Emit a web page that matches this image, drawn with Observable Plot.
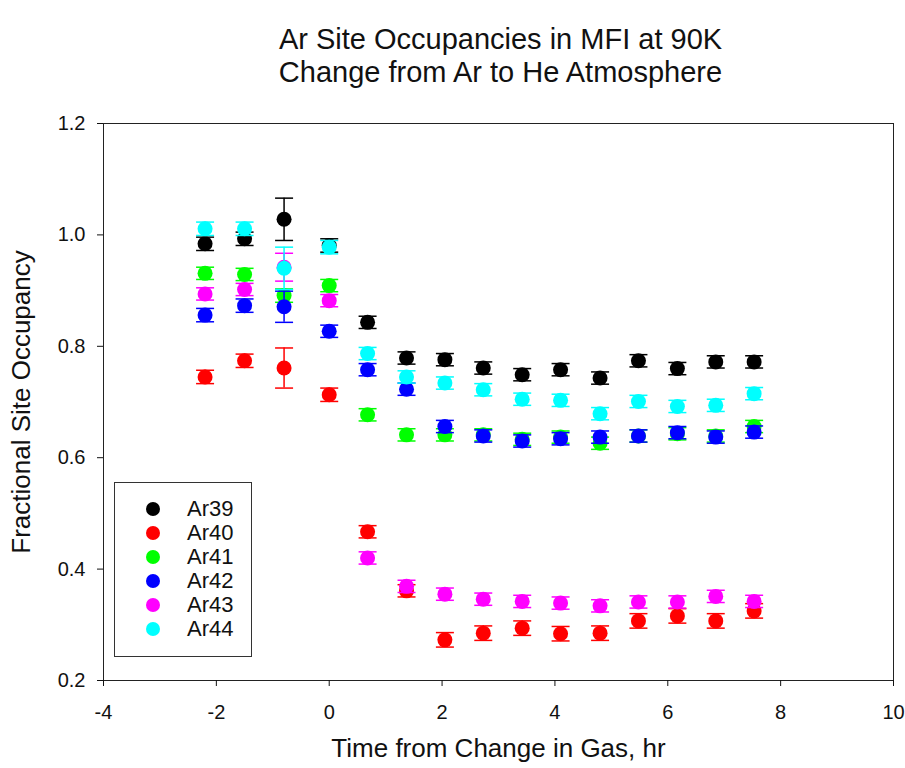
<!DOCTYPE html>
<html>
<head>
<meta charset="utf-8">
<script src="https://cdn.jsdelivr.net/npm/d3@7"></script>
<script src="https://cdn.jsdelivr.net/npm/@observablehq/plot@0.6"></script>
<style>
  body { margin: 0; background: #fff; font-family: "Liberation Sans", Arial, sans-serif; }
  #wrap { position: relative; width: 905px; height: 768px; overflow: hidden; }
  #title { position: absolute; left: 0; top: 23px; width: 905px; text-align: center; font-size: 29px; line-height: 33px; color: #111; margin-left: 48px; }
  #chart { position: absolute; left: 0; top: 100px; }
  #legend { position: absolute; left: 114px; top: 482px; width: 138px; height: 175px; border: 1px solid #333; box-sizing: border-box; }
  .row { position: absolute; left: 0; height: 24px; display: flex; align-items: center; font-size: 22px; color: #111; }
  .sw { width: 14px; height: 14px; border-radius: 50%; margin-left: 31px; margin-right: 27px; }
</style>
</head>
<body>
<div id="wrap">
  <div id="title">Ar Site Occupancies in MFI at 90K<br>Change from Ar to He Atmosphere</div>
  <div id="chart"></div>
  <div id="legend"></div>
</div>
<script>
const times = [-2.2, -1.5, -0.8, 0, 0.68, 1.37, 2.05, 2.73, 3.42, 4.1, 4.8, 5.48, 6.17, 6.85, 7.53];
const seriesNames = ["Ar39", "Ar40", "Ar41", "Ar42", "Ar43", "Ar44"];
const seriesColors = ["#000000", "#ff0000", "#00ff00", "#0000ff", "#ff00ff", "#00ffff"];
const ar39 = [0.984, 0.993, 1.028, 0.981, 0.843, 0.779, 0.776, 0.761, 0.749, 0.758, 0.743, 0.774, 0.760, 0.772, 0.772];
const ar40 = [0.745, 0.774, 0.761, 0.713, 0.467, 0.361, 0.273, 0.285, 0.294, 0.284, 0.285, 0.307, 0.316, 0.307, 0.325];
const ar41 = [0.931, 0.929, 0.891, 0.909, 0.677, 0.641, 0.641, 0.641, 0.633, 0.637, 0.626, 0.639, 0.643, 0.639, 0.656];
const ar42 = [0.856, 0.873, 0.871, 0.827, 0.758, 0.723, 0.656, 0.639, 0.630, 0.634, 0.637, 0.639, 0.645, 0.637, 0.646];
const ar43 = [0.894, 0.902, 0.942, 0.882, 0.420, 0.369, 0.355, 0.346, 0.342, 0.339, 0.334, 0.341, 0.341, 0.351, 0.342];
const ar44 = [1.011, 1.011, 0.940, 0.978, 0.787, 0.745, 0.734, 0.722, 0.705, 0.703, 0.679, 0.701, 0.692, 0.694, 0.715];
const err39 = [0.012, 0.012, 0.038, 0.012, 0.011, 0.011, 0.011, 0.011, 0.011, 0.011, 0.011, 0.011, 0.011, 0.011, 0.011];
const err40 = [0.012, 0.012, 0.036, 0.012, 0.011, 0.011, 0.013, 0.013, 0.013, 0.013, 0.013, 0.013, 0.013, 0.013, 0.013];
const err41 = [0.011, 0.011, 0.012, 0.011, 0.011, 0.011, 0.011, 0.011, 0.011, 0.011, 0.011, 0.011, 0.011, 0.011, 0.011];
const err42 = [0.012, 0.012, 0.028, 0.011, 0.011, 0.011, 0.011, 0.011, 0.011, 0.011, 0.011, 0.011, 0.011, 0.011, 0.011];
const err43 = [0.011, 0.011, 0.025, 0.011, 0.011, 0.011, 0.011, 0.011, 0.011, 0.011, 0.011, 0.011, 0.011, 0.011, 0.011];
const err44 = [0.012, 0.012, 0.038, 0.012, 0.011, 0.011, 0.011, 0.011, 0.011, 0.011, 0.011, 0.011, 0.011, 0.011, 0.011];
const xTicks = [-4, -2, 0, 2, 4, 6, 8, 10];
const yTicks = [0.2, 0.4, 0.6, 0.8, 1.0, 1.2];

const values = [ar39, ar40, ar41, ar42, ar43, ar44];
const errs = [err39, err40, err41, err42, err43, err44];
const data = [];
seriesNames.forEach((s, i) => {
  times.forEach((t, j) => {
    data.push({series: s, t, v: values[i][j], lo: values[i][j] - errs[i][j], hi: values[i][j] + errs[i][j]});
  });
});

const cap = {draw(ctx, size) { const w = 9; ctx.moveTo(-w, 0); ctx.lineTo(w, 0); }};

const marks = [Plot.frame({stroke: "#222"})];
seriesNames.forEach((s, i) => {
  const d = data.filter(r => r.series === s);
  const c = seriesColors[i];
  marks.push(Plot.ruleX(d, {x: "t", y1: "lo", y2: "hi", stroke: c, strokeWidth: 1.5}));
  marks.push(Plot.dot(d, {x: "t", y: "lo", symbol: cap, stroke: c, strokeWidth: 1.5}));
  marks.push(Plot.dot(d, {x: "t", y: "hi", symbol: cap, stroke: c, strokeWidth: 1.5}));
  marks.push(Plot.dot(d, {x: "t", y: "v", r: 7.5, fill: c}));
});
marks.push(Plot.axisX({ticks: xTicks, tickFormat: d => String(d), tickSize: 6, tickPadding: 18, label: null, fontSize: 20}));
marks.push(Plot.axisY({ticks: yTicks, tickFormat: d3.format(".1f"), tickSize: 6, tickPadding: 12, label: null, fontSize: 20}));
marks.push(Plot.text(["Time from Change in Gas, hr"], {frameAnchor: "bottom", dy: 76, fontSize: 26, fill: "#111"}));
marks.push(Plot.text(["Fractional Site Occupancy"], {frameAnchor: "left", rotate: -90, textAnchor: "middle", dx: -82, fontSize: 26, fill: "#111"}));

const chart = Plot.plot({
  width: 905,
  height: 668,
  marginLeft: 103,
  marginRight: 12,
  marginTop: 23,
  marginBottom: 88,
  x: {domain: [-4, 10]},
  y: {domain: [0.2, 1.2]},
  style: {fontFamily: "Liberation Sans, Arial, sans-serif", color: "#111", background: "white"},
  marks
});
document.getElementById("chart").appendChild(chart);

const legend = document.getElementById("legend");
const rowCenters = [26, 50, 74, 98, 122, 146];
seriesNames.forEach((s, i) => {
  const row = document.createElement("div");
  row.className = "row";
  row.style.top = (rowCenters[i] - 12) + "px";
  row.innerHTML = `<span class="sw" style="background:${seriesColors[i]}"></span><span>${s}</span>`;
  legend.appendChild(row);
});
</script>
</body>
</html>
